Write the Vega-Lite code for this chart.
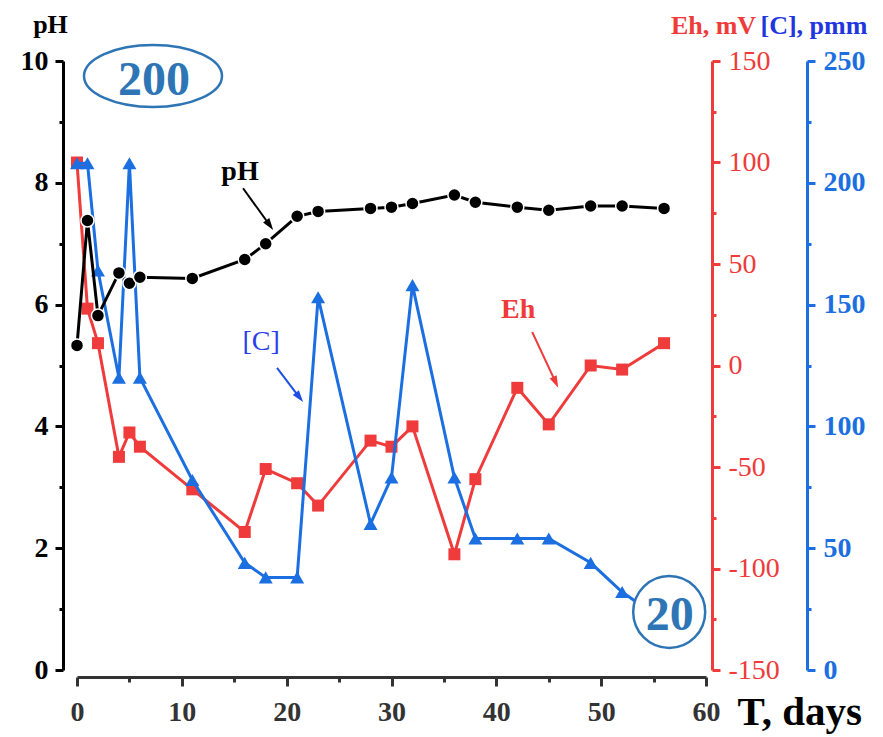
{
  "$schema": "https://vega.github.io/schema/vega-lite/v6.json",
  "width": 629,
  "height": 609,
  "autosize": {"type": "none"},
  "padding": {"left": 77, "top": 61, "right": 177, "bottom": 67},
  "background": "white",
  "config": {
    "view": {"stroke": null},
    "font": "Liberation Serif",
    "text": {"font": "Liberation Serif"},
    "axis": {"grid": false, "labelFont": "Liberation Serif", "titleFont": "Liberation Serif", "labelFlush": false, "labelOverlap": false}
  },
  "datasets": {
    "ph": [
      {"day": 0, "pH": 5.33}, {"day": 1, "pH": 7.38}, {"day": 2, "pH": 5.82}, {"day": 4, "pH": 6.52},
      {"day": 5, "pH": 6.35}, {"day": 6, "pH": 6.45}, {"day": 11, "pH": 6.43}, {"day": 16, "pH": 6.74},
      {"day": 18, "pH": 7.0}, {"day": 21, "pH": 7.45}, {"day": 23, "pH": 7.53}, {"day": 28, "pH": 7.58},
      {"day": 30, "pH": 7.6}, {"day": 32, "pH": 7.66}, {"day": 36, "pH": 7.8}, {"day": 38, "pH": 7.68},
      {"day": 42, "pH": 7.6}, {"day": 45, "pH": 7.55}, {"day": 49, "pH": 7.62}, {"day": 52, "pH": 7.62},
      {"day": 56, "pH": 7.58}
    ],
    "eh": [
      {"day": 0, "Eh": 100}, {"day": 1, "Eh": 28}, {"day": 2, "Eh": 11}, {"day": 4, "Eh": -45},
      {"day": 5, "Eh": -33}, {"day": 6, "Eh": -40}, {"day": 11, "Eh": -61}, {"day": 16, "Eh": -82},
      {"day": 18, "Eh": -51}, {"day": 21, "Eh": -58}, {"day": 23, "Eh": -69}, {"day": 28, "Eh": -37},
      {"day": 30, "Eh": -40}, {"day": 32, "Eh": -30}, {"day": 36, "Eh": -93}, {"day": 38, "Eh": -56},
      {"day": 42, "Eh": -11}, {"day": 45, "Eh": -29}, {"day": 49, "Eh": 0}, {"day": 52, "Eh": -2},
      {"day": 56, "Eh": 11}
    ],
    "c": [
      {"day": 0, "C": 208}, {"day": 1, "C": 208}, {"day": 2, "C": 164}, {"day": 4, "C": 120},
      {"day": 5, "C": 208}, {"day": 6, "C": 120}, {"day": 11, "C": 78}, {"day": 16, "C": 44},
      {"day": 18, "C": 38}, {"day": 21, "C": 38}, {"day": 23, "C": 153}, {"day": 28, "C": 60},
      {"day": 30, "C": 79}, {"day": 32, "C": 158}, {"day": 36, "C": 79}, {"day": 38, "C": 54},
      {"day": 42, "C": 54}, {"day": 45, "C": 54}, {"day": 49, "C": 44}, {"day": 52, "C": 32},
      {"day": 56, "C": 20}
    ]
  },
  "layer": [
    {
      "data": {"name": "eh"},
      "mark": {"type": "line", "color": "#ef3b3b", "strokeWidth": 3},
      "encoding": {
        "x": {"field": "day", "type": "quantitative", "scale": {"domain": [0, 60], "nice": false},
          "axis": {"orient": "bottom", "offset": 7, "values": [0, 10, 20, 30, 40, 50, 60], "tickSize": 9, "tickWidth": 3, "domainWidth": 3, "domainColor": "#333", "tickColor": "#333", "labelFont": "Liberation Serif", "labelFontSize": 28, "labelFontWeight": "bold", "labelColor": "#333", "labelPadding": 12, "title": "T, days", "titleFont": "Liberation Serif", "titleAngle": 0, "titleX": 660, "titleY": 47, "titleAlign": "left", "titleBaseline": "alphabetic", "titleFontSize": 41, "titleFontWeight": "bold", "titleColor": "black"}},
        "y": {"field": "Eh", "type": "quantitative", "scale": {"domain": [-150, 150], "nice": false, "zero": false},
          "axis": {"orient": "right", "offset": 6, "values": [-150, -100, -50, 0, 50, 100, 150], "labelExpr": "'' + datum.value", "tickSize": 8, "tickWidth": 3, "domainWidth": 3, "domainColor": "#ef3b3b", "tickColor": "#ef3b3b", "labelFont": "Liberation Serif", "labelFontSize": 28, "labelColor": "#ef3b3b", "labelPadding": 8, "title": "Eh, mV", "titleFont": "Liberation Serif", "titleAngle": 0, "titleX": 1, "titleY": -28, "titleAlign": "center", "titleBaseline": "alphabetic", "titleFontSize": 26, "titleFontWeight": "bold", "titleColor": "#ef3b3b"}}
      }
    },
    {
      "data": {"name": "eh"},
      "mark": {"type": "point", "shape": "square", "filled": true, "opacity": 1, "size": 144, "color": "#ef3b3b"},
      "encoding": {
        "x": {"field": "day", "type": "quantitative",
          "axis": {"orient": "bottom", "offset": 7, "values": [5, 15, 25, 35, 45, 55], "tickSize": 5, "tickWidth": 3, "domain": false, "labels": false, "title": null, "tickColor": "#333"}},
        "y": {"field": "Eh", "type": "quantitative", "scale": {"domain": [-150, 150], "nice": false, "zero": false},
          "axis": {"orient": "right", "offset": 6, "values": [-125, -75, -25, 25, 75, 125], "tickSize": 4, "tickWidth": 3, "domain": false, "labels": false, "title": null, "tickColor": "#ef3b3b"}}
      }
    },
    {
      "data": {"name": "c"},
      "mark": {"type": "line", "color": "#1b6fe0", "strokeWidth": 3},
      "encoding": {
        "x": {"field": "day", "type": "quantitative", "axis": null},
        "y": {"field": "C", "type": "quantitative", "scale": {"domain": [0, 250], "nice": false},
          "axis": {"orient": "right", "offset": 101, "values": [0, 50, 100, 150, 200, 250], "tickSize": 8, "tickWidth": 3, "domainWidth": 3, "domainColor": "#1b6fe0", "tickColor": "#1b6fe0", "labelFont": "Liberation Serif", "labelFontSize": 28, "labelFontWeight": "bold", "labelColor": "#1b6fe0", "labelPadding": 8, "title": "[C], pmm", "titleFont": "Liberation Serif", "titleAngle": 0, "titleX": -47, "titleY": -28, "titleAlign": "left", "titleBaseline": "alphabetic", "titleFontSize": 26, "titleFontWeight": "bold", "titleColor": "#2236e0"}}
      }
    },
    {
      "data": {"name": "c"},
      "mark": {"type": "point", "shape": "triangle-up", "filled": true, "opacity": 1, "size": 196, "color": "#1b6fe0"},
      "encoding": {
        "x": {"field": "day", "type": "quantitative", "axis": null},
        "y": {"field": "C", "type": "quantitative", "scale": {"domain": [0, 250], "nice": false},
          "axis": {"orient": "right", "offset": 101, "values": [25, 75, 125, 175, 225], "tickSize": 4, "tickWidth": 3, "domain": false, "labels": false, "title": null, "tickColor": "#1b6fe0"}}
      }
    },
    {
      "data": {"name": "ph"},
      "mark": {"type": "line", "color": "black", "strokeWidth": 3},
      "encoding": {
        "x": {"field": "day", "type": "quantitative", "axis": null},
        "y": {"field": "pH", "type": "quantitative", "scale": {"domain": [0, 10], "nice": false},
          "axis": {"orient": "left", "offset": 14, "values": [0, 2, 4, 6, 8, 10], "tickSize": 8, "tickWidth": 3, "domainWidth": 3, "domainColor": "black", "tickColor": "black", "labelFont": "Liberation Serif", "labelFontSize": 28, "labelFontWeight": "bold", "labelColor": "black", "labelPadding": 7, "title": "pH", "titleFont": "Liberation Serif", "titleAngle": 0, "titleX": -13, "titleY": -29, "titleAlign": "center", "titleBaseline": "alphabetic", "titleFontSize": 26, "titleFontWeight": "bold", "titleColor": "black"}}
      }
    },
    {
      "data": {"name": "ph"},
      "mark": {"type": "point", "shape": "circle", "filled": true, "opacity": 1, "size": 169, "color": "black", "stroke": "white", "strokeWidth": 1.5},
      "encoding": {
        "x": {"field": "day", "type": "quantitative", "axis": null},
        "y": {"field": "pH", "type": "quantitative", "scale": {"domain": [0, 10], "nice": false},
          "axis": {"orient": "left", "offset": 14, "values": [1, 3, 5, 7, 9], "tickSize": 4, "tickWidth": 3, "domain": false, "labels": false, "title": null, "tickColor": "black"}}
      }
    },
    {
      "data": {"values": [{"day": 15.84, "v": 7.91, "day2": 18.32, "v2": 7.32}]},
      "mark": {"type": "rule", "color": "black", "strokeWidth": 2},
      "encoding": {
        "x": {"field": "day", "type": "quantitative", "axis": null},
        "x2": {"field": "day2"},
        "y": {"field": "v", "type": "quantitative", "scale": {"domain": [0, 10], "nice": false}, "axis": null},
        "y2": {"field": "v2"}
      }
    },
    {
      "data": {"values": [{"day": 19.08, "v": 4.96, "day2": 21.16, "v2": 4.49}]},
      "mark": {"type": "rule", "color": "#1d4fe6", "strokeWidth": 2},
      "encoding": {
        "x": {"field": "day", "type": "quantitative", "axis": null},
        "x2": {"field": "day2"},
        "y": {"field": "v", "type": "quantitative", "scale": {"domain": [0, 10], "nice": false}, "axis": null},
        "y2": {"field": "v2"}
      }
    },
    {
      "data": {"values": [{"day": 43.42, "v": 5.55, "day2": 45.62, "v2": 4.74}]},
      "mark": {"type": "rule", "color": "#ef3b3b", "strokeWidth": 2},
      "encoding": {
        "x": {"field": "day", "type": "quantitative", "axis": null},
        "x2": {"field": "day2"},
        "y": {"field": "v", "type": "quantitative", "scale": {"domain": [0, 10], "nice": false}, "axis": null},
        "y2": {"field": "v2"}
      }
    },
    {
      "data": {"values": [{"day": 18.32, "v": 7.32}]},
      "mark": {"type": "point", "shape": "M0,-1 L0.55,0.7 L-0.55,0.7 Z", "filled": true, "opacity": 1, "size": 196, "color": "black", "angle": 144.4},
      "encoding": {
        "x": {"field": "day", "type": "quantitative", "axis": null},
        "y": {"field": "v", "type": "quantitative", "scale": {"domain": [0, 10], "nice": false}, "axis": null}
      }
    },
    {
      "data": {"values": [{"day": 21.16, "v": 4.49}]},
      "mark": {"type": "point", "shape": "M0,-1 L0.55,0.7 L-0.55,0.7 Z", "filled": true, "opacity": 1, "size": 196, "color": "#1d4fe6", "angle": 142.6},
      "encoding": {
        "x": {"field": "day", "type": "quantitative", "axis": null},
        "y": {"field": "v", "type": "quantitative", "scale": {"domain": [0, 10], "nice": false}, "axis": null}
      }
    },
    {
      "data": {"values": [{"day": 45.62, "v": 4.74}]},
      "mark": {"type": "point", "shape": "M0,-1 L0.55,0.7 L-0.55,0.7 Z", "filled": true, "opacity": 1, "size": 196, "color": "#ef3b3b", "angle": 155.2},
      "encoding": {
        "x": {"field": "day", "type": "quantitative", "axis": null},
        "y": {"field": "v", "type": "quantitative", "scale": {"domain": [0, 10], "nice": false}, "axis": null}
      }
    },
    {
      "data": {"values": [{"day": 15.55, "v": 8.05, "label": "pH"}]},
      "mark": {"type": "text", "font": "Liberation Serif", "fontSize": 28, "fontWeight": "bold", "color": "black", "align": "center", "baseline": "alphabetic"},
      "encoding": {
        "x": {"field": "day", "type": "quantitative", "axis": null},
        "y": {"field": "v", "type": "quantitative", "scale": {"domain": [0, 10], "nice": false}, "axis": null},
        "text": {"field": "label"}
      }
    },
    {
      "data": {"values": [{"day": 17.56, "v": 5.25, "label": "[C]"}]},
      "mark": {"type": "text", "font": "Liberation Serif", "fontSize": 28, "color": "#2a3fe8", "align": "center", "baseline": "alphabetic"},
      "encoding": {
        "x": {"field": "day", "type": "quantitative", "axis": null},
        "y": {"field": "v", "type": "quantitative", "scale": {"domain": [0, 10], "nice": false}, "axis": null},
        "text": {"field": "label"}
      }
    },
    {
      "data": {"values": [{"day": 42.08, "v": 5.78, "label": "Eh"}]},
      "mark": {"type": "text", "font": "Liberation Serif", "fontSize": 28, "fontWeight": "bold", "color": "#ef3b3b", "align": "center", "baseline": "alphabetic"},
      "encoding": {
        "x": {"field": "day", "type": "quantitative", "axis": null},
        "y": {"field": "v", "type": "quantitative", "scale": {"domain": [0, 10], "nice": false}, "axis": null},
        "text": {"field": "label"}
      }
    },
    {
      "data": {"values": [{"day": 7.25, "v": 9.754}]},
      "mark": {"type": "point", "shape": "M-1,0 A1,0.45 0 1,1 1,0 A1,0.45 0 1,1 -1,0 Z", "filled": false, "opacity": 1, "size": 19044, "color": "#2e75b6", "strokeWidth": 2.5},
      "encoding": {
        "x": {"field": "day", "type": "quantitative", "axis": null},
        "y": {"field": "v", "type": "quantitative", "scale": {"domain": [0, 10], "nice": false}, "axis": null}
      }
    },
    {
      "data": {"values": [{"day": 7.35, "v": 9.44, "label": "200"}]},
      "mark": {"type": "text", "font": "Liberation Serif", "fontSize": 48, "fontWeight": "bold", "color": "#2e75b6", "align": "center", "baseline": "alphabetic"},
      "encoding": {
        "x": {"field": "day", "type": "quantitative", "axis": null},
        "y": {"field": "v", "type": "quantitative", "scale": {"domain": [0, 10], "nice": false}, "axis": null},
        "text": {"field": "label"}
      }
    },
    {
      "data": {"values": [{"day": 56.49, "v": 0.952}]},
      "mark": {"type": "point", "shape": "circle", "filled": false, "opacity": 1, "size": 5184, "stroke": "#2e75b6", "fill": "white", "fillOpacity": 1, "strokeWidth": 2.5},
      "encoding": {
        "x": {"field": "day", "type": "quantitative", "axis": null},
        "y": {"field": "v", "type": "quantitative", "scale": {"domain": [0, 10], "nice": false}, "axis": null}
      }
    },
    {
      "data": {"values": [{"day": 56.54, "v": 0.657, "label": "20"}]},
      "mark": {"type": "text", "font": "Liberation Serif", "fontSize": 48, "fontWeight": "bold", "color": "#2e75b6", "align": "center", "baseline": "alphabetic"},
      "encoding": {
        "x": {"field": "day", "type": "quantitative", "axis": null},
        "y": {"field": "v", "type": "quantitative", "scale": {"domain": [0, 10], "nice": false}, "axis": null},
        "text": {"field": "label"}
      }
    }
  ],
  "resolve": {"scale": {"y": "independent"}, "axis": {"x": "independent", "y": "independent"}}
}
